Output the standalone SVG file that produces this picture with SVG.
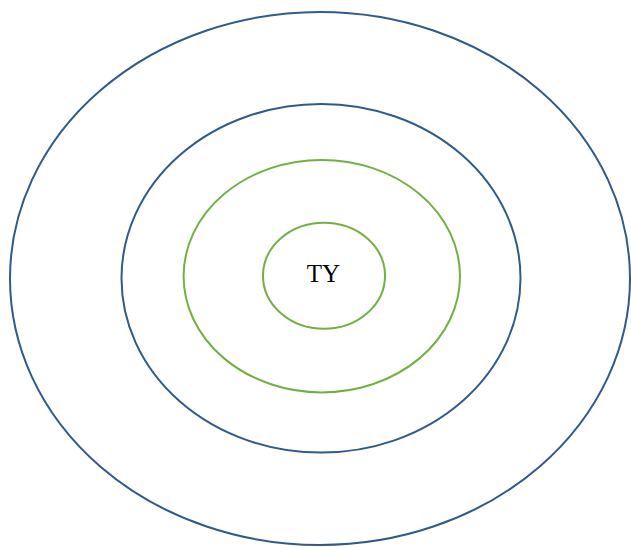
<svg xmlns="http://www.w3.org/2000/svg" width="631" height="547" viewBox="0 0 631 547">
<style>
.blue{fill:none;stroke:#2f5a8a;stroke-width:2}
.green{fill:none;stroke:#72b043;stroke-width:2}
.lbl{font-family:"Liberation Serif","Times New Roman",serif;font-size:25px;fill:#000}
</style>
<rect width="631" height="547" fill="#fff"/>
<g id="outer"><ellipse class="blue" cx="320" cy="278.5" rx="310" ry="266.5"/></g>
<g id="second"><ellipse class="blue" cx="321" cy="278.3" rx="199.5" ry="174.3"/></g>
<g id="third"><ellipse class="green" cx="321.8" cy="276.2" rx="138.2" ry="116.2"/></g>
<g id="inner"><ellipse class="green" cx="324" cy="275.7" rx="61" ry="53"/>
<text class="lbl" x="323.5" y="281.8" text-anchor="middle">TY</text></g>
<g id="connectors"/>
</svg>
